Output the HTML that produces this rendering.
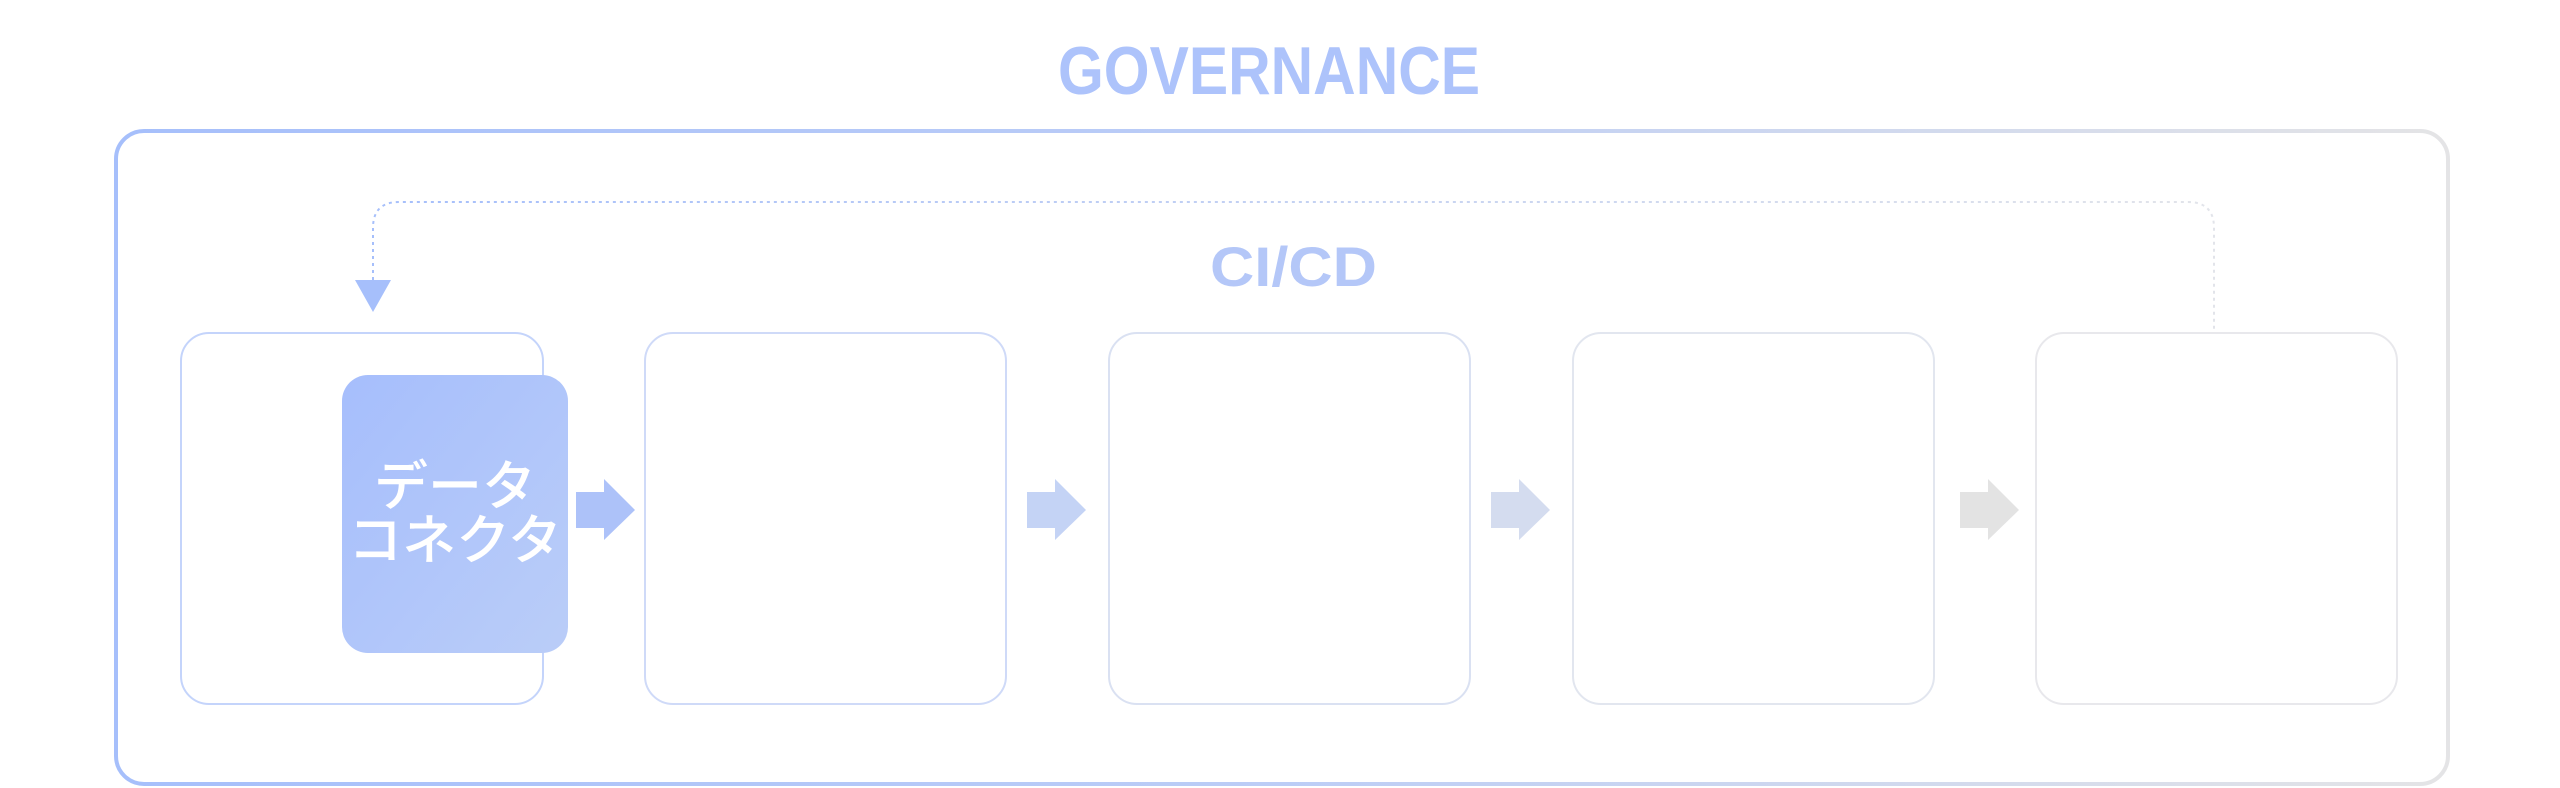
<!DOCTYPE html>
<html><head><meta charset="utf-8"><style>html,body{margin:0;padding:0;background:#fff;}svg{display:block}</style></head>
<body>
<svg width="2560" height="788" viewBox="0 0 2560 788" xmlns="http://www.w3.org/2000/svg">
<defs>
<linearGradient id="og" x1="0" y1="0" x2="1" y2="0">
<stop offset="0" stop-color="#a6bffb"/><stop offset="0.5" stop-color="#bccdf6"/><stop offset="1" stop-color="#e4e4e6"/>
</linearGradient>
<linearGradient id="dg" gradientUnits="userSpaceOnUse" x1="373" y1="0" x2="2214" y2="0">
<stop offset="0" stop-color="#a6bffb"/><stop offset="1" stop-color="#e2e4ea"/>
</linearGradient>
<linearGradient id="bg" x1="0" y1="0" x2="1" y2="1">
<stop offset="0" stop-color="#a6befc"/><stop offset="1" stop-color="#bacdf8"/>
</linearGradient>
</defs>
<text x="1058" y="94" textLength="422" lengthAdjust="spacingAndGlyphs" font-family="Liberation Sans, sans-serif" font-weight="bold" font-size="68" fill="#adc3fb">GOVERNANCE</text>
<rect x="116" y="131" width="2332" height="653" rx="28" fill="none" stroke="url(#og)" stroke-width="4"/>
<path d="M373 280 V228 Q373 202 399 202 H2188 Q2214 202 2214 228 V333" fill="none" stroke="url(#dg)" stroke-width="2" stroke-dasharray="3 4"/>
<polygon points="355,280 391,280 373,312" fill="#a6bffb"/>
<text x="1210" y="286" textLength="167" lengthAdjust="spacingAndGlyphs" font-family="Liberation Sans, sans-serif" font-weight="bold" font-size="56" fill="#b4c7f8">CI/CD</text>
<rect x="181" y="333" width="362" height="371" rx="28" fill="none" stroke="#c4d4fb" stroke-width="2"/>
<rect x="645" y="333" width="361" height="371" rx="28" fill="none" stroke="#cfdaf8" stroke-width="2"/>
<rect x="1109" y="333" width="361" height="371" rx="28" fill="none" stroke="#dae1f2" stroke-width="2"/>
<rect x="1573" y="333" width="361" height="371" rx="28" fill="none" stroke="#e2e6ef" stroke-width="2"/>
<rect x="2036" y="333" width="361" height="371" rx="28" fill="none" stroke="#e8e8ec" stroke-width="2"/>
<rect x="342" y="375" width="226" height="278" rx="26" fill="url(#bg)"/>
<text x="455" y="487" text-anchor="middle" dominant-baseline="central" font-family="Liberation Sans, 'Noto Sans CJK JP', sans-serif" font-weight="500" font-size="54" fill="#fff">データ</text>
<text x="455" y="541" text-anchor="middle" dominant-baseline="central" font-family="Liberation Sans, 'Noto Sans CJK JP', sans-serif" font-weight="500" font-size="54" fill="#fff">コネクタ</text>
<polygon points="576,492 604,492 604,479 635,510 604,540 604,528 576,528" fill="#adc2f9"/>
<polygon points="1027,492 1055,492 1055,479 1086,510 1055,540 1055,528 1027,528" fill="#c4d3f5"/>
<polygon points="1491,492 1519,492 1519,479 1550,510 1519,540 1519,528 1491,528" fill="#d4dcef"/>
<polygon points="1960,492 1988,492 1988,479 2019,510 1988,540 1988,528 1960,528" fill="#e3e3e3"/>
</svg>
</body></html>
